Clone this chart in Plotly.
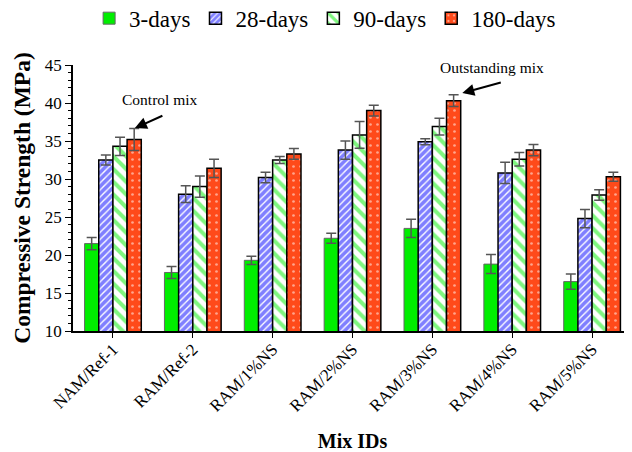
import plotly.graph_objects as go

categories = ["NAM/Ref-1", "RAM/Ref-2", "RAM/1%NS", "RAM/2%NS", "RAM/3%NS", "RAM/4%NS", "RAM/5%NS"]
series_names = ["3-days", "28-days", "90-days", "180-days"]
days3 = [21.5, 17.7, 19.3, 22.2, 23.5, 18.8, 16.5]
days28 = [32.5, 28.0, 30.2, 33.8, 34.9, 30.8, 24.8]
days90 = [34.3, 29.0, 32.5, 35.8, 36.9, 32.6, 27.9]
days180 = [35.2, 31.4, 33.3, 39.0, 40.3, 33.8, 30.3]
err3 = [0.8, 0.8, 0.55, 0.65, 1.2, 1.25, 1.0]
err28 = [0.65, 1.1, 0.7, 1.2, 0.4, 1.4, 1.2]
err90 = [1.2, 1.4, 0.45, 1.75, 1.1, 0.9, 0.7]
err180 = [1.45, 1.2, 0.7, 0.7, 0.77, 0.75, 0.6]
y_ticks = [10, 15, 20, 25, 30, 35, 40, 45]

FONT = "Liberation Serif"
values = [days3, days28, days90, days180]
errors = [err3, err28, err90, err180]
styles = [
    dict(color="#00EE00", line=dict(color="#666666", width=1)),
    dict(color="white", line=dict(color="black", width=1.5),
         pattern=dict(shape="/", fgcolor="#0000FF", bgcolor="white", size=5, solidity=0.72)),
    dict(color="white", line=dict(color="black", width=1.5),
         pattern=dict(shape="\\", fgcolor="#00EE00", bgcolor="white", size=9, solidity=0.45)),
    dict(color="#FF4A1A", line=dict(color="black", width=1.5),
         pattern=dict(shape=".", fgcolor="white", bgcolor="#FF4A1A", size=7, solidity=0.12)),
]

fig = go.Figure()
for name, vals, errs, st in zip(series_names, values, errors, styles):
    fig.add_trace(go.Bar(
        x=categories, y=vals, name=name, marker=st,
        error_y=dict(type="data", array=errs, visible=True, color="#555555", thickness=1.5, width=5),
    ))

fig.update_layout(
    width=624, height=444,
    margin=dict(l=65, r=0, t=57, b=121),
    paper_bgcolor="white", plot_bgcolor="white",
    barmode="group", bargap=0.29, bargroupgap=0,
    font=dict(family=FONT, size=16, color="black"),
    showlegend=True,
    legend=dict(orientation="h", xref="container", x=0.13, xanchor="left",
                yref="container", y=0.977, yanchor="middle",
                font=dict(family=FONT, size=23), itemwidth=30, traceorder="normal",
                tracegroupgap=0),
    xaxis=dict(
        automargin=False,
        showline=True, linecolor="black", linewidth=1.5, ticks="outside", ticklen=5,
        tickcolor="black", tickangle=-45, tickfont=dict(family=FONT, size=17),
        ticklabelstandoff=-5,
        title=dict(text="<b>Mix IDs</b>", font=dict(family=FONT, size=20), standoff=24),
        range=[-0.5, 6.5],
    ),
    yaxis=dict(
        automargin=False,
        range=[10, 45], tickvals=y_ticks, showline=True, linecolor="black", linewidth=1.5,
        ticks="outside", ticklen=6, tickcolor="black", showgrid=False, zeroline=False,
        minor=dict(dtick=1, ticks="outside", ticklen=3, tickcolor="black"),
        tickfont=dict(family=FONT, size=17),
        title=dict(text="<b>Compressive Strength (MPa)</b>", font=dict(family=FONT, size=23.5), standoff=8),
    ),
    annotations=[
        dict(x=0.59, y=40.4, xref="x", yref="y", text="Control mix", showarrow=False,
             font=dict(family=FONT, size=15.5)),
        dict(x=0.275, y=36.7, xref="x", yref="y", ax=29, ay=-13, text="", showarrow=True,
             arrowhead=2, arrowsize=1.2, arrowwidth=2, arrowcolor="black"),
        dict(x=4.75, y=44.7, xref="x", yref="y", text="Outstanding mix", showarrow=False,
             font=dict(family=FONT, size=15.5)),
        dict(x=4.375, y=41.3, xref="x", yref="y", ax=40, ay=-11, text="", showarrow=True,
             arrowhead=2, arrowsize=1.2, arrowwidth=2, arrowcolor="black"),
    ],
)

fig.write_html("out.html")
